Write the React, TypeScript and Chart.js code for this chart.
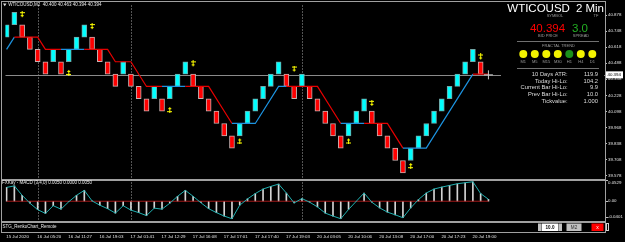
import React, { useEffect, useRef } from 'react';
import { Chart, registerables } from 'chart.js';

Chart.register(...registerables);

// ---------------- data ----------------
// Renko bricks (index = bar number)
const brickOpen = [
  40.7, 40.8, 40.8, 40.7, 40.6, 40.5, 40.5, 40.5, 40.5, 40.6,
  40.7, 40.7, 40.6, 40.5, 40.4, 40.4, 40.4, 40.3, 40.2, 40.2,
  40.2, 40.2, 40.3, 40.4, 40.4, 40.3, 40.2, 40.1, 40.0, 39.9,
  39.9, 40.0, 40.1, 40.2, 40.3, 40.4, 40.4, 40.3, 40.3, 40.3,
  40.2, 40.1, 40.0, 39.9, 39.9, 40.0, 40.1, 40.1, 40.0, 39.9,
  39.8, 39.7, 39.7, 39.8, 39.9, 40.0, 40.1, 40.2, 40.3, 40.4,
  40.5, 40.5,
];
const brickClose = [
  40.8, 40.9, 40.7, 40.6, 40.5, 40.4, 40.6, 40.4, 40.6, 40.7,
  40.8, 40.6, 40.5, 40.4, 40.3, 40.5, 40.3, 40.2, 40.1, 40.3,
  40.1, 40.3, 40.4, 40.5, 40.3, 40.2, 40.1, 40.0, 39.9, 39.8,
  40.0, 40.1, 40.2, 40.3, 40.4, 40.5, 40.3, 40.2, 40.4, 40.2,
  40.1, 40.0, 39.9, 39.8, 40.0, 40.1, 40.2, 40.0, 39.9, 39.8,
  39.7, 39.6, 39.8, 39.9, 40.0, 40.1, 40.2, 40.3, 40.4, 40.5,
  40.6, 40.4,
];
const currentBar = 62;
const bidPrice = 40.394;

// trailing stop line vertices
const stopBars = [0, 1, 4, 5, 7, 10, 13, 14, 16, 18, 20, 23, 26, 29, 32, 35, 36, 40, 43, 46, 49, 51, 54, 60, 62];
const stopPrices = [40.6, 40.7, 40.7, 40.6, 40.6, 40.6, 40.6, 40.5, 40.5, 40.3, 40.3, 40.3, 40.3, 40.0, 40.0, 40.3, 40.3, 40.3, 40.0, 40.0, 40.0, 39.8, 39.8, 40.4, 40.4];
const stopTrend = ['up', 'down', 'down', 'down', 'up', 'down', 'down', 'down', 'down', 'down', 'up', 'down', 'down', 'up', 'up', 'up', 'down', 'down', 'up', 'down', 'down', 'up', 'up', 'down', 'down'];

// fractal arrows
const downArrowBars = [2, 11, 24, 37, 47, 61];
const downArrowPrices = [40.882, 40.785, 40.483, 40.441, 40.163, 40.539];
const upArrowBars = [8, 21, 30, 44, 52];
const upArrowPrices = [40.414, 40.112, 39.858, 39.858, 39.658];

// MACD sub-window
const macdMain = [
  0.035, 0.0388, 0.015, -0.005, -0.0213, -0.0308, -0.0113, -0.02, -0.0013, 0.015,
  0.0275, 0.0008, -0.01, -0.0188, -0.03, -0.0113, -0.0225, -0.0288, -0.0363, -0.0175,
  -0.02, -0.005, 0.0125, 0.0275, 0.0125, -0.0038, -0.0188, -0.0288, -0.0375, -0.0443,
  -0.01, 0.0058, 0.0193, 0.0308, 0.0375, 0.0433, 0.0208, -0.0043, 0.0068, -0.0025,
  -0.0143, -0.03, -0.0375, -0.0443, -0.0208, 0.0, 0.0208, -0.0025, -0.0168, -0.0275,
  -0.0343, -0.0418, -0.0168, 0.0043, 0.0208, 0.0308, 0.0358, 0.04, 0.0443, 0.0468,
  0.0493, 0.0193, 0.005,
];
const macdSignal = [
  0, 0, 0, 0, 0, 0, 0, 0, 0, 0, 0, 0, 0, 0, 0, 0, 0, 0, 0, 0, 0, 0, 0, 0, 0, 0, 0, 0, 0, 0, 0, 0,
  0, 0, 0, 0, 0, 0, 0, 0, 0, 0, 0, 0, 0, 0, 0, 0, 0, 0, 0, 0, 0, 0, 0, 0, 0, 0, 0, 0, 0, 0, 0,
];
const macdAxisValues = [0.0529, 0, -0.0401];
const macdAxisTexts = ['0.0529', '0.00', '-0.0401'];

// axes
const priceTicks = [40.878, 40.748, 40.618, 40.488, 40.358, 40.228, 40.098, 39.968, 39.838, 39.708, 39.578];
const timeTickBars = [0, 4, 8, 12, 16, 20, 24, 28, 32, 36, 40, 44, 48, 52, 56, 60];
const timeLabels = [
  '15 Jul 2020', '16 Jul 05:20', '16 Jul 11:27', '16 Jul 19:03', '17 Jul 01:41', '17 Jul 12:29',
  '17 Jul 16:08', '17 Jul 17:01', '17 Jul 17:40', '17 Jul 19:03', '20 Jul 03:05', '20 Jul 10:06',
  '20 Jul 13:08', '20 Jul 17:00', '20 Jul 17:23', '20 Jul 19:00',
];
const daySeparatorBars = [4, 16, 38];

// texts
const chartTitle = 'WTICOUSD,M2  40.400 40.463 40.394 40.394';
const macdTitle = 'FXKay - MACD (3,4,0) 0.0050 0.0000 0.0050';
const stgTitle = 'STG_RenkoChart_Remote';
const symbolText = 'WTICOUSD';
const tfText = '2 Min';
const spreadText = '3.0';
const tfLabels = ['M1', 'M5', 'M15', 'M30', 'H1', 'H4', 'D1'];
const tfTrend = ['up', 'up', 'up', 'up', 'down', 'up', 'up'];
const statLabels = ['10 Days ATR:', 'Today Hi-Lo:', 'Current Bar Hi-Lo:', 'Prev Bar Hi-Lo:', 'Tickvalue:'];
const statValues = ['119.9', '104.2', '9.9', '10.0', '1.000'];
const lotText = '10.0';
const tfButtonText = 'M2';

const FONT = '"Liberation Sans", Arial, sans-serif';
const RED = '#e60000';
const BLUE = '#1c93e0';

export default function App() {
  const ref = useRef<HTMLCanvasElement | null>(null);

  useEffect(() => {
    const canvas = ref.current;
    if (!canvas) return;

    const makeArrow = (down: boolean) => {
      const c = document.createElement('canvas');
      c.width = 5;
      c.height = 7;
      const g = c.getContext('2d')!;
      g.fillStyle = '#ffff00';
      if (down) {
        g.fillRect(2, 0, 1, 6);
        g.fillRect(0, 1, 5, 1);
        g.fillRect(1, 4, 1, 1);
        g.fillRect(3, 4, 1, 1);
      } else {
        g.fillRect(2, 1, 1, 6);
        g.fillRect(0, 5, 5, 1);
        g.fillRect(1, 2, 1, 1);
        g.fillRect(3, 2, 1, 1);
      }
      return c;
    };
    const downImg = makeArrow(true);
    const upImg = makeArrow(false);

    const text = (ctx: CanvasRenderingContext2D, s: string, x: number, y: number, size: number, color: string, align: CanvasTextAlign = 'left', baseline: CanvasTextBaseline = 'middle', weight = '') => {
      ctx.font = `${weight ? weight + ' ' : ''}${size}px ${FONT}`;
      ctx.fillStyle = color;
      ctx.textAlign = align;
      ctx.textBaseline = baseline;
      ctx.fillText(s, x, y);
    };

    const decor = {
      id: 'decor',
      beforeDatasetsDraw(chart: any) {
        const { ctx, chartArea, scales } = chart;
        const x = scales.x, y = scales.y, y2 = scales.y2;
        ctx.save();
        // frames
        ctx.fillStyle = '#a0a0a0';
        ctx.fillRect(1, 1, 605, 1);
        ctx.fillRect(1, 1, 1, 232);
        ctx.fillRect(605, 1, 1, 232);
        ctx.fillRect(1, Math.round(y.bottom), 604, 2);
        ctx.fillRect(1, Math.round(y2.bottom) - 1, 604, 2);
        ctx.fillRect(1, 232, 605, 1);
        // day separators
        ctx.strokeStyle = '#a8a8a8';
        ctx.lineWidth = 1;
        ctx.setLineDash([1, 2]);
        for (const b of daySeparatorBars) {
          const px = Math.round(x.getPixelForValue(b)) + 0.5;
          ctx.beginPath();
          ctx.moveTo(px, y.top);
          ctx.lineTo(px, y2.bottom - 1);
          ctx.stroke();
        }
        ctx.setLineDash([]);
        // bid line
        const by = Math.round(y.getPixelForValue(bidPrice)) + 0.5;
        ctx.strokeStyle = '#8a8a8a';
        ctx.beginPath();
        ctx.moveTo(chartArea.left, by);
        ctx.lineTo(chartArea.right, by);
        ctx.stroke();
        ctx.restore();
      },
      afterDraw(chart: any) {
        const { ctx, scales } = chart;
        const x = scales.x, y = scales.y, y2 = scales.y2;
        ctx.save();
        // chart title
        ctx.fillStyle = '#e0e0e0';
        ctx.beginPath();
        ctx.moveTo(3, 3.5);
        ctx.lineTo(6.5, 3.5);
        ctx.lineTo(4.75, 6.2);
        ctx.closePath();
        ctx.fill();
        text(ctx, chartTitle, 8.3, 5, 4.5, '#e8e8e8');
        text(ctx, macdTitle, 2, y2.top + 4.5, 4.5, '#e8e8e8');
        text(ctx, stgTitle, 2.5, 227, 4.5, '#e8e8e8');

        // time axis labels
        timeTickBars.forEach((b, k) => {
          const px = x.getPixelForValue(b);
          text(ctx, timeLabels[k], px - 0.4, 236.3, 4.4, '#e0e0e0');
        });

        // info panel
        ctx.fillStyle = '#000';
        ctx.fillRect(501, 3, 103, 104);
        text(ctx, symbolText, 507.3, 12, 11.5, '#ffffff', 'left', 'alphabetic');
        text(ctx, tfText, 604, 12, 11.5, '#ffffff', 'right', 'alphabetic');
        text(ctx, 'SYMBOL', 555, 15.7, 4, '#9a9a9a', 'center');
        text(ctx, 'TF', 596, 15.7, 4, '#9a9a9a', 'center');
        text(ctx, bidPrice.toFixed(3), 547.5, 31.7, 11.5, '#ff0000', 'center', 'alphabetic');
        text(ctx, spreadText, 580, 31.7, 11.5, '#22b022', 'center', 'alphabetic');
        text(ctx, 'BID PRICE', 548, 36.3, 4, '#9a9a9a', 'center');
        text(ctx, 'SPREAD', 581, 36.3, 4, '#9a9a9a', 'center');
        ctx.fillStyle = '#707070';
        ctx.fillRect(517, 41, 82, 1);
        text(ctx, 'FRACTAL TREND', 558.5, 45.7, 4, '#9a9a9a', 'center');
        tfLabels.forEach((lab, k) => {
          const cx = 523.3 + k * 11.5;
          ctx.beginPath();
          ctx.arc(cx, 54, 4, 0, Math.PI * 2);
          ctx.fillStyle = tfTrend[k] === 'up' ? '#f2f200' : '#1b8f1b';
          ctx.fill();
          text(ctx, lab, cx, 62.3, 4, '#9a9a9a', 'center');
        });
        ctx.fillStyle = '#707070';
        ctx.fillRect(517, 68, 82, 1);
        statLabels.forEach((lab, k) => {
          const ry = 74.5 + k * 6.6;
          text(ctx, lab, 567.5, ry, 5.8, '#dcdcdc', 'right');
          text(ctx, statValues[k], 598, ry, 5.8, '#dcdcdc', 'right');
        });

        // bid box on price axis
        const by = y.getPixelForValue(bidPrice);
        ctx.fillStyle = '#ffffff';
        ctx.fillRect(606, by - 3.5, 17, 7);
        text(ctx, bidPrice.toFixed(3), 607.5, by, 4.4, '#000000');

        // MACD axis labels
        macdAxisValues.forEach((v, k) => {
          const py = y2.getPixelForValue(v);
          const ly = Math.min(Math.max(py, y2.top + 4.3), y2.bottom - 3.7);
          ctx.fillStyle = '#c0c0c0';
          ctx.fillRect(606, Math.round(py), 2, 1);
          text(ctx, macdAxisTexts[k], 608, ly, 4.4, '#e0e0e0');
        });

        // bottom controls
        ctx.fillStyle = '#c0c0c0';
        ctx.fillRect(538, 223.5, 3, 7.5);
        ctx.fillRect(559, 223.5, 3, 7.5);
        ctx.fillStyle = '#ffffff';
        ctx.fillRect(541.5, 223.5, 17, 7.5);
        text(ctx, lotText, 550, 227.4, 4.6, '#000000', 'center', 'middle', 'bold');
        ctx.fillStyle = '#c0c0c0';
        ctx.fillRect(566.5, 223.5, 15, 7.5);
        text(ctx, tfButtonText, 574, 227.4, 4.6, '#303030', 'center');
        ctx.fillStyle = '#ff0000';
        ctx.fillRect(591.5, 223.5, 12, 7.5);
        text(ctx, 'x', 597.5, 227.2, 5, '#ffffff', 'center');
        ctx.strokeStyle = '#d0d0d0';
        ctx.lineWidth = 1;
        ctx.strokeRect(606.5, 223.5, 2, 7);
        ctx.restore();
      },
    };

    const bricks = brickOpen.map((o, i) => ({ x: i, y: [o, brickClose[i]] }));
    const brickUp = brickOpen.map((o, i) => brickClose[i] > o);

    const chart = new Chart(canvas, {
      type: 'bar',
      data: {
        datasets: [
          {
            type: 'line',
            label: 'down fractals',
            yAxisID: 'y',
            data: downArrowBars.map((b, k) => ({ x: b, y: downArrowPrices[k] })),
            showLine: false,
            pointStyle: downImg,
            pointRadius: 3,
            order: 0,
          },
          {
            type: 'line',
            label: 'up fractals',
            yAxisID: 'y',
            data: upArrowBars.map((b, k) => ({ x: b, y: upArrowPrices[k] })),
            showLine: false,
            pointStyle: upImg,
            pointRadius: 3,
            order: 0,
          },
          {
            type: 'line',
            label: 'current',
            yAxisID: 'y',
            data: [{ x: currentBar, y: bidPrice }],
            showLine: false,
            pointStyle: 'cross',
            pointRadius: 4.5,
            pointBorderColor: '#c8c8c8',
            pointBorderWidth: 1,
            order: 0,
          },
          {
            type: 'line',
            label: 'stop',
            yAxisID: 'y',
            data: stopBars.map((b, k) => ({ x: b, y: stopPrices[k] })),
            borderColor: RED,
            borderWidth: 1.2,
            pointRadius: 0,
            tension: 0,
            segment: {
              borderColor: (c: any) => (stopTrend[c.p0DataIndex] === 'up' ? BLUE : RED),
            },
            order: 1,
          },
          {
            type: 'bar',
            label: 'bricks',
            yAxisID: 'y',
            data: bricks as any,
            backgroundColor: brickUp.map((u) => (u ? '#00ffff' : '#ff0000')),
            borderColor: brickUp.map((u) => (u ? '#70a8a8' : '#c8b0b0')),
            borderWidth: 1,
            borderSkipped: false,
            barThickness: 5,
            grouped: false,
            order: 2,
          },
          {
            type: 'line',
            label: 'MACD',
            yAxisID: 'y2',
            data: macdMain.map((v, i) => ({ x: i, y: v })),
            borderColor: '#20b0b0',
            borderWidth: 1,
            pointRadius: 0,
            tension: 0,
            order: 3,
          },
          {
            type: 'line',
            label: 'signal',
            yAxisID: 'y2',
            data: macdSignal.map((v, i) => ({ x: i, y: v })),
            borderColor: '#a01818',
            borderWidth: 1,
            pointRadius: 0,
            order: 4,
          },
          {
            type: 'bar',
            label: 'hist',
            yAxisID: 'y2',
            data: macdMain.map((v, i) => ({ x: i, y: v })) as any,
            backgroundColor: '#d4d4d4',
            barThickness: 1,
            grouped: false,
            order: 5,
          },
        ] as any,
      },
      options: {
        animation: false,
        responsive: false,
        events: [],
        layout: { padding: { left: 1, top: 3, right: 0, bottom: 20 } },
        plugins: { legend: { display: false }, tooltip: { enabled: false } },
        scales: {
          x: {
            type: 'linear',
            position: 'bottom',
            display: false,
            offset: false,
            grid: { offset: false },
            min: -0.14,
            max: 77.0,
            bounds: 'data',
          },
          y: {
            type: 'linear',
            position: 'right',
            stack: 'panes',
            stackWeight: 175,
            min: 39.554,
            max: 40.956,
            bounds: 'data',
            grid: { display: true, drawOnChartArea: false, drawTicks: true, tickLength: 2, color: '#c0c0c0' },
            border: { display: false },
            afterBuildTicks: (s: any) => {
              s.ticks = priceTicks.map((v) => ({ value: v }));
            },
            afterFit: (s: any) => {
              s.width = 20;
            },
            ticks: {
              autoSkip: false,
              padding: 1,
              color: '#e0e0e0',
              font: { size: 4.4, family: FONT },
              callback: (v: any) => Number(v).toFixed(3),
            },
          },
          y2: {
            type: 'linear',
            position: 'right',
            stack: 'panes',
            stackWeight: 44,
            min: -0.0525,
            max: 0.0575,
            bounds: 'data',
            grid: { display: false },
            border: { display: false },
            ticks: { display: false },
            afterFit: (s: any) => {
              s.width = 20;
            },
          },
        },
      } as any,
      plugins: [decor],
    });

    return () => {
      chart.destroy();
    };
  }, []);

  return (
    <div style={{ position: 'absolute', left: 0, top: 0, width: 625, height: 242, background: '#000', overflow: 'hidden' }}>
      <canvas ref={ref} width={625} height={242} style={{ display: 'block' }} />
    </div>
  );
}
